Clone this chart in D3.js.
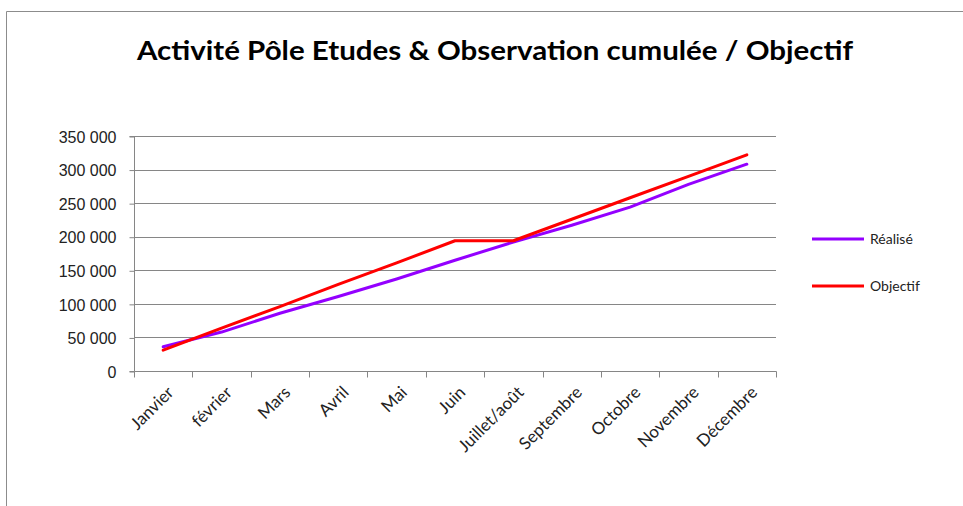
<!DOCTYPE html>
<html><head><meta charset="utf-8">
<script src="https://cdn.jsdelivr.net/npm/d3@7"></script>
<style>body{margin:0;background:#fff}svg{display:block}</style>
</head><body>
<svg id="c" width="963" height="506"></svg>
<script>
const categories = ["Janvier","février","Mars","Avril","Mai","Juin","Juillet/août","Septembre","Octobre","Novembre","Décembre"];
const realise = [36000,58000,86000,111000,137000,165000,192000,217000,244000,278000,308000];
const objectif = [31000,64000,96000,129000,161000,194000,194000,226000,258000,290000,322000];
const yTicks = [0,50000,100000,150000,200000,250000,300000,350000];
const seriesNames = ["Réalisé","Objectif"];
const title = "Activité Pôle Etudes & Observation cumulée / Objectif";

const svg = d3.select("#c");
const W=963,H=506;
const m={l:134,r:776,t:136,b:371};

// frame
svg.append("path").attr("d",`M6.5,${H} V11.5 H${W}`).attr("fill","none").attr("stroke","#8c8c8c").attr("stroke-width",1);

svg.append("text").attr("x",495).attr("y",60).attr("text-anchor","middle")
  .attr("font-family","Lato, 'Open Sans', sans-serif").attr("font-weight","bold").attr("font-size",27)
  .attr("fill","#000").attr("textLength",716).attr("lengthAdjust","spacingAndGlyphs").text(title);

const x = d3.scaleBand().domain(categories).range([m.l,m.r]);
const y = d3.scaleLinear().domain([0,350000]).range([m.b,m.t]);
const fmt = v => d3.format(",")(v).replace(/,/g,"\u00a0");

// grid
svg.append("g").selectAll("line").data(yTicks.slice(1)).join("line")
  .attr("x1",m.l).attr("x2",m.r).attr("y1",d=>Math.round(y(d))+0.5).attr("y2",d=>Math.round(y(d))+0.5)
  .attr("stroke","#868686").attr("stroke-width",1);

// y axis
const ya = svg.append("g").attr("transform",`translate(${m.l+0.5},0.5)`)
  .call(d3.axisLeft(y).tickValues(yTicks).tickFormat(fmt).tickSize(5).tickPadding(13));
ya.select(".domain").attr("stroke","#868686").attr("d",`M-5,${Math.round(m.t)}H0V${Math.round(m.b)}H-5`);
ya.selectAll(".tick line").attr("stroke","#868686");
ya.selectAll(".tick text").attr("font-family","'Liberation Sans', Arial, sans-serif").attr("font-size",16).attr("fill","#222").attr("dy","0.36em");

// x axis
const xa = svg.append("g").attr("transform",`translate(0.5,${Math.round(m.b)+0.5})`);
xa.append("line").attr("x1",m.l).attr("x2",m.r).attr("stroke","#868686");
const edges = categories.map(c=>x(c)).concat([m.r]);
xa.selectAll("line.t").data(edges).join("line").attr("class","t")
  .attr("x1",d=>Math.round(d)).attr("x2",d=>Math.round(d)).attr("y1",0).attr("y2",6).attr("stroke","#868686");
xa.selectAll("text").data(categories).join("text")
  .attr("transform",d=>`translate(${x(d)+x.bandwidth()/2+11},${22}) rotate(-45)`)
  .attr("text-anchor","end").attr("font-family","Lato, 'Open Sans', sans-serif").attr("font-size",17).attr("fill","#222")
  .text(d=>d);

const line = d3.line().x((d,i)=>x(categories[i])+x.bandwidth()/2).y(d=>y(d));
const colors = ["#9400ff","#ff0000"];
[realise,objectif].forEach((s,i)=>{
  svg.append("path").datum(s).attr("d",line).attr("fill","none").attr("stroke",colors[i])
    .attr("stroke-width",3).attr("stroke-linejoin","round").attr("stroke-linecap","round");
});

// legend
const lg = svg.append("g");
[239,286].forEach((ly,i)=>{
  lg.append("line").attr("x1",812).attr("x2",864).attr("y1",ly).attr("y2",ly).attr("stroke",colors[i]).attr("stroke-width",3);
  lg.append("text").attr("x",870).attr("y",ly).attr("dy","0.35em").attr("font-family","Lato, 'Open Sans', sans-serif")
    .attr("font-size",14).attr("fill","#222").text(seriesNames[i]);
});
</script>
</body></html>
